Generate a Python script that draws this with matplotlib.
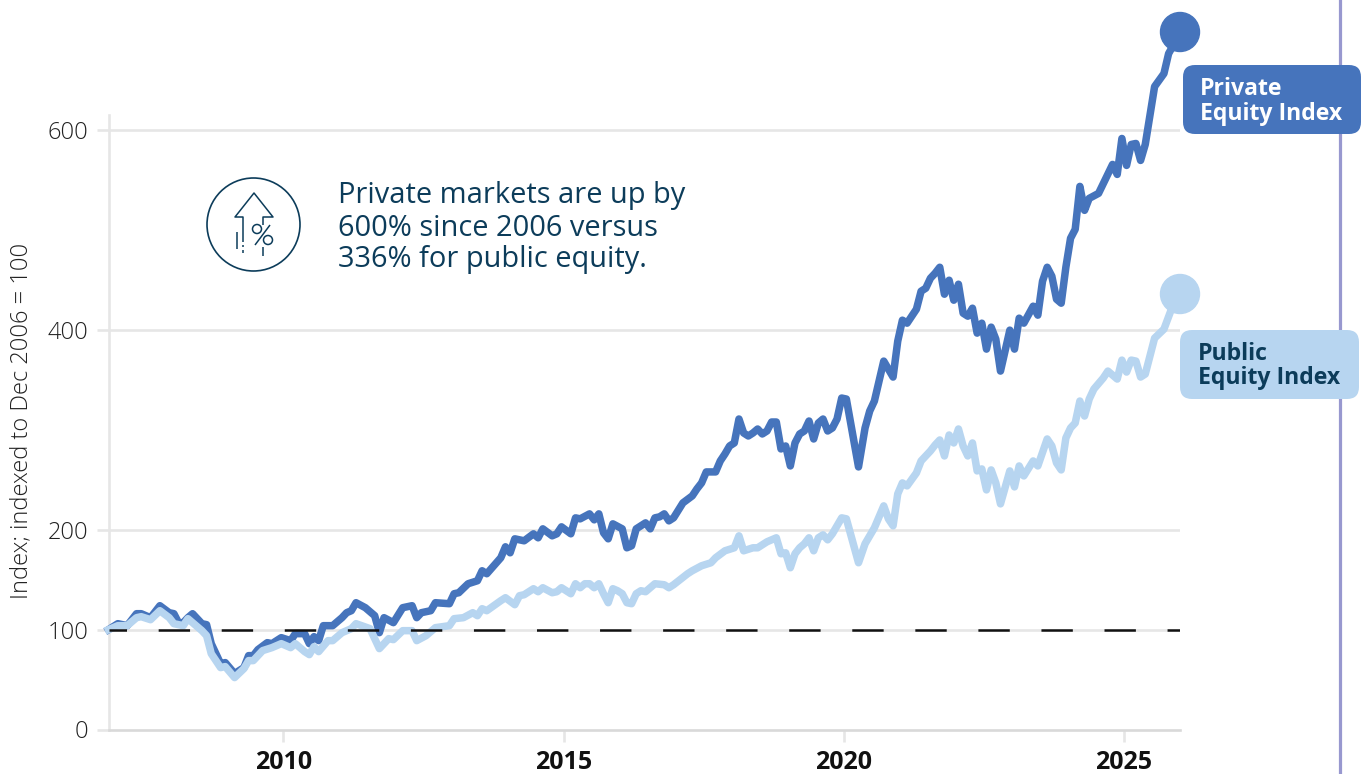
"""Private vs public equity index, indexed to Dec 2006 = 100."""

import numpy as np
import matplotlib
matplotlib.use("Agg")
import matplotlib.pyplot as plt
from matplotlib.patches import FancyBboxPatch, Circle

W, H = 1369, 774
plt.rcParams["font.family"] = ["Open Sans", "DejaVu Sans"]
plt.rcParams["lines.scale_dashes"] = False

# months since the first observation
START_YEAR = 2006.88
END_YEAR = 2026.0

private_months = [0, 2, 4, 6, 7, 9, 11, 13, 14, 15, 16, 17, 18, 20, 21, 22, 24, 25, 27, 29,
                  30, 31, 32, 34, 35, 37, 39, 40, 42, 43, 44, 45, 46, 48, 50, 51, 52, 53, 55, 57,
                  58, 59, 61, 63, 65, 66, 67, 69, 70, 73, 74, 75, 77, 79, 80, 81, 84, 85, 86, 87,
                  89, 91, 92, 93, 95, 96, 97, 99, 100, 101, 103, 104, 105, 106, 107, 108, 110, 111, 112, 113,
                  115, 116, 117, 118, 119, 120, 121, 123, 125, 126, 127, 128, 130, 131, 132, 133, 134, 135, 136, 137,
                  138, 139, 140, 141, 142, 143, 144, 145, 146, 147, 148, 149, 150, 151, 152, 153, 154, 155, 156, 157,
                  158, 160.6, 162, 163, 164, 166, 168, 169, 170, 171, 173, 174, 175, 176, 177, 178, 179, 180, 181,
                  182, 183, 184, 185, 186, 187, 188, 189, 190, 191, 193, 194, 195, 196, 198, 199, 200, 201, 202, 203,
                  204, 205, 206, 207, 208, 209, 210, 212, 215, 216, 217, 218, 219, 220, 221, 222, 224, 226, 227, 229.4]
private_index = [100, 106, 104, 116, 116, 112, 124, 117, 116, 107, 107, 112, 116, 106, 105, 86, 66, 67, 56, 62,
                 74, 74, 80, 87, 86, 92, 89, 96, 96, 86, 93, 89, 104, 104, 112, 117, 119, 127, 122, 114,
                 97, 112, 107, 122, 124, 112, 117, 119, 127, 126, 136, 137, 146, 149, 159, 156, 172, 183, 177, 191,
                 189, 196, 192, 201, 194, 196, 203, 196, 212, 211, 216, 210, 216, 197, 191, 206, 201, 182, 184, 201,
                 207, 201, 212, 213, 216, 209, 212, 227, 234, 241, 247, 258, 258, 269, 276, 284, 287, 311, 297, 294,
                 297, 301, 296, 299, 308, 308, 281, 284, 264, 287, 296, 299, 309, 291, 307, 311, 299, 302, 311, 332,
                 331, 263, 302, 319, 329, 369, 353, 389, 410, 407, 421, 439, 442, 452, 457, 463, 436, 450, 430,
                 446, 417, 414, 422, 397, 407, 381, 403, 391, 359, 400, 381, 412, 407, 424, 415, 449, 463, 454, 431,
                 427, 463, 492, 501, 544, 520, 532, 537, 566, 556, 592, 565, 586, 587, 570, 586, 644, 657, 677, 697]

public_months = [0, 2, 4, 6, 7, 9, 11, 13, 14, 16, 17, 18, 20, 21, 22, 24, 25, 27, 29, 30,
                 31, 33, 35, 37, 39, 40, 42, 43, 44, 45, 47, 48, 50, 52, 53, 56, 57, 58, 60, 61,
                 63, 65, 66, 68, 70, 73, 74, 76, 78, 79, 80, 81, 84, 85, 87, 88, 89, 91, 92, 93,
                 95, 96, 97, 99, 100, 101, 102, 103, 104, 105, 106, 107, 108, 109, 110, 111, 112, 113, 114, 115,
                 117, 119, 120, 121, 124, 125, 127, 129, 130, 132, 134, 135, 136, 138, 139, 141, 143, 144, 145, 146,
                 147, 148, 149, 150, 151, 152, 153, 154, 155, 157, 158, 160.6, 162, 163, 164, 166, 167, 168, 169, 170,
                 171, 173, 174, 176, 177, 178, 179, 180, 181, 182, 183, 184, 185, 186, 187, 188, 189, 190, 191, 193,
                 194, 195, 196, 198, 199, 201, 202, 203, 204, 205, 206, 207, 208, 209, 210, 211, 213, 214, 216, 217,
                 218, 219, 220, 221, 222, 224, 226, 228, 229.4]
public_index = [100, 104, 104, 112, 113, 110, 119, 112, 106, 104, 111, 107, 99, 94, 76, 62, 63, 52, 61, 69,
                69, 79, 82, 86, 82, 86, 78, 75, 83, 78, 89, 89, 97, 101, 106, 101, 91, 81, 91, 90,
                99, 99, 89, 94, 102, 104, 111, 112, 117, 114, 121, 119, 129, 132, 125, 134, 135, 141, 138, 142,
                137, 138, 142, 136, 146, 142, 146, 146, 142, 146, 136, 127, 141, 139, 136, 127, 126, 136, 139, 138,
                146, 145, 142, 145, 156, 159, 164, 167, 172, 179, 182, 194, 179, 182, 182, 188, 192, 176, 177, 162,
                176, 182, 186, 192, 179, 192, 195, 190, 196, 212, 211, 167, 186, 194, 202, 224, 211, 204, 236, 247,
                244, 257, 269, 279, 285, 290, 274, 295, 287, 301, 284, 274, 287, 259, 261, 240, 260, 247, 226, 259,
                243, 264, 254, 269, 264, 291, 284, 267, 260, 292, 302, 307, 329, 314, 331, 341, 352, 359, 351, 370,
                358, 370, 369, 353, 356, 392, 401, 426, 435]

y_ticks = [0, 100, 200, 400, 600]
x_ticks = [2010, 2015, 2020, 2025]

DARK = "#4674bc"
LIGHT = "#b7d5f0"
NAVY = "#0c3c5a"
GRID = "#e6e6e6"
TEXT = "#222222"

fig = plt.figure(figsize=(W / 100, H / 100), dpi=100)
ax = fig.add_axes([108.5 / W, 1 - 729.5 / H, (1180 - 108.5) / W, (729.5 - 115) / H])
ax.set_xlim(START_YEAR, END_YEAR)
ax.set_ylim(0, 615.5)

for s in ["top", "right"]:
    ax.spines[s].set_visible(False)
ax.spines["left"].set_color(GRID)
ax.spines["left"].set_linewidth(1.9)
ax.spines["bottom"].set_color("#d9d9d9")
ax.spines["bottom"].set_linewidth(1.9)

ax.set_yticks(y_ticks)
ax.set_xticks(x_ticks)
ax.tick_params(axis="y", length=8.6, width=1.9, color=GRID, labelsize=17, labelcolor=TEXT, pad=6)
ax.tick_params(axis="x", length=8.6, width=1.9, color=GRID, labelsize=18, pad=6)
for lab in ax.get_xticklabels():
    lab.set_fontweight("bold")
    lab.set_color("#111111")
for lab in ax.get_yticklabels():
    lab.set_fontweight("light")
for v in y_ticks[1:]:
    ax.axhline(v, color=GRID, lw=1.9, zorder=1)

private_x = START_YEAR + np.array(private_months) / 12
public_x = START_YEAR + np.array(public_months) / 12
ax.plot(private_x, private_index, color=DARK, lw=5.4, solid_joinstyle="round", clip_on=False, zorder=3)
ax.plot(public_x, public_index, color=LIGHT, lw=5.4, solid_joinstyle="round", clip_on=False, zorder=4)
ax.plot([START_YEAR, END_YEAR], [100, 100], color="#111111", lw=1.8,
        linestyle=(10, (22.6, 22.8)), zorder=5)

# overlay in pixel coordinates for the call-outs and the icon
ov = fig.add_axes([0, 0, 1, 1], facecolor="none")
ov.set_xlim(0, W)
ov.set_ylim(H, 0)
ov.axis("off")

ov.plot([1340, 1340], [0, H], color="#9898cf", lw=2.3, zorder=1)

ov.add_patch(Circle((1180, 32), 19.5, color=DARK, zorder=5))
ov.add_patch(Circle((1180, 294), 19.5, color=LIGHT, zorder=5))

ov.add_patch(FancyBboxPatch((1195, 77), 154, 45, boxstyle="round,pad=12,rounding_size=12",
                            fc=DARK, ec="none", zorder=2))
ov.add_patch(FancyBboxPatch((1192, 342), 155, 45, boxstyle="round,pad=12,rounding_size=12",
                            fc=LIGHT, ec="none", zorder=2))
label_kw = dict(fontsize=16.6, fontweight="bold", va="center", ha="left", zorder=6)
ov.text(1200, 89, "Private", color="white", **label_kw)
ov.text(1200, 114, "Equity Index", color="white", **label_kw)
ov.text(1198, 354, "Public", color=NAVY, **label_kw)
ov.text(1198, 378, "Equity Index", color=NAVY, **label_kw)

note_kw = dict(color=NAVY, fontsize=20.9, va="center", ha="left")
ov.text(338, 195, "Private markets are up by", **note_kw)
ov.text(338, 228, "600% since 2006 versus", **note_kw)
ov.text(338, 260, "336% for public equity.", **note_kw)

ov.text(21, 421, "Index; indexed to Dec 2006 = 100", color=TEXT, fontsize=17, fontweight="light",
        rotation=90, va="center", ha="center")

# arrow and percent icon
ic = dict(color=NAVY, lw=1.1, solid_capstyle="butt")
ov.add_patch(Circle((253.5, 224.5), 46.5, fill=False, ec=NAVY, lw=1.2))
ov.plot([243, 243, 235, 254, 273, 263, 263], [242, 217, 217, 193, 217, 217, 225], **ic)
ov.plot([237, 237], [232, 249], **ic)
ov.plot([243, 243], [245, 247], **ic)
ov.plot([243, 243], [250, 253], **ic)
ov.plot([255, 270], [245, 225], **ic)
ov.plot([263, 263], [247, 256], **ic)
ov.add_patch(Circle((257, 229), 4.5, fill=False, ec=NAVY, lw=1.1))
ov.add_patch(Circle((268, 240), 4.5, fill=False, ec=NAVY, lw=1.1))

fig.savefig("out.png", dpi=100)
